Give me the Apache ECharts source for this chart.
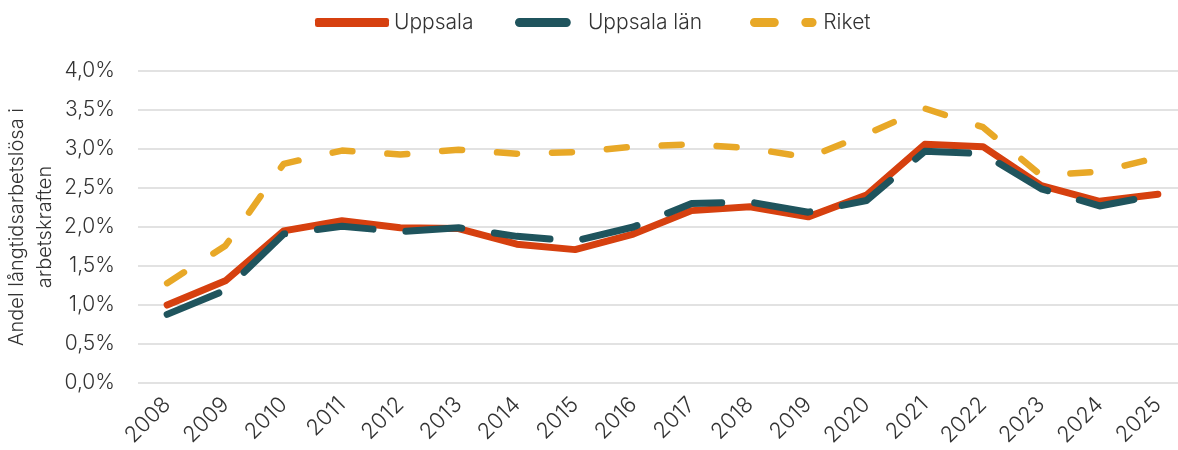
<!DOCTYPE html>
<html>
<head>
<meta charset="utf-8">
<script src="https://cdn.jsdelivr.net/npm/echarts@6/dist/echarts.min.js"></script>
<style>
  html, body { margin: 0; padding: 0; background: #fff; }
  #chart { width: 1178px; height: 450px; }
</style>
</head>
<body>
<div id="chart"></div>
<script>
// years on the x axis
const years = ['2008', '2009', '2010', '2011', '2012', '2013', '2014', '2015', '2016',
  '2017', '2018', '2019', '2020', '2021', '2022', '2023', '2024', '2025'];

// share of long-term unemployed, percent
const uppsala = [1.00, 1.31, 1.95, 2.08, 1.99, 1.98, 1.78, 1.71, 1.91,
  2.21, 2.26, 2.13, 2.41, 3.06, 3.03, 2.53, 2.33, 2.42];
const uppsalaLan = [0.88, 1.19, 1.91, 2.01, 1.94, 1.99, 1.88, 1.82, 2.00,
  2.30, 2.32, 2.19, 2.34, 2.97, 2.94, 2.49, 2.27, 2.41];
const riket = [1.28, 1.76, 2.81, 2.98, 2.93, 2.99, 2.94, 2.96, 3.03,
  3.06, 3.01, 2.89, 3.19, 3.52, 3.28, 2.66, 2.71, 2.89];

const yTitle = 'Andel långtidsarbetslösa i\narbetskraften';

const FONT = 'Inter';
const TXT = '#333333';
const RED = '#d6400f';
const TEAL = '#1f545d';
const YELLOW = '#e8a827';

let chart = echarts.init(document.getElementById('chart'), null, {renderer: 'canvas'});

function pct(v) {
  return v.toFixed(1).replace('.', ',') + '%';
}

// capsule shaped legend marks, like the ones in the original
const capsule = 'path://M5,0H57A5,5 0 0 1 57,10H5A5,5 0 0 1 5,0Z';
const twoDashes = 'path://M5,0H27A5,5 0 0 1 27,10H5A5,5 0 0 1 5,0Z M62,0H69A5,5 0 0 1 69,10H62A5,5 0 0 1 62,0Z';

function legendAt(left, name, icon, width, pad) {
  return {
    top: 7,
    left: left,
    itemWidth: width,
    itemHeight: 9,
    icon: icon,
    textStyle: {fontSize: 21, color: TXT, fontFamily: FONT, fontWeight: 300, padding: [0, 0, 0, pad]},
    data: [name]
  };
}

let option = {
  animation: false,
  textStyle: {fontFamily: FONT, fontWeight: 300, color: TXT},
  legend: [
    legendAt(310, 'Uppsala', 'roundRect', 74, 0),
    legendAt(510, 'Uppsala län', capsule, 62, 9),
    legendAt(745, 'Riket', twoDashes, 74, -2)
  ],
  // rotated y axis title, placed by hand
  graphic: [{
    type: 'text',
    x: 31,
    y: 227,
    rotation: Math.PI / 2,
    style: {
      text: yTitle,
      align: 'center',
      verticalAlign: 'middle',
      lineHeight: 28,
      font: '300 20px Inter',
      fill: TXT
    }
  }],
  grid: {left: 138, right: -9, top: 71, bottom: 67, containLabel: false, outerBoundsMode: 'none'},
  xAxis: {
    type: 'category',
    data: years,
    boundaryGap: true,
    axisLine: {show: false},
    axisTick: {show: false},
    axisLabel: {
      rotate: 45,
      fontSize: 22,
      color: TXT,
      margin: 18,
      interval: 0
    }
  },
  yAxis: {
    type: 'value',
    min: 0,
    max: 4,
    interval: 0.5,
    axisLabel: {formatter: pct, fontSize: 21, color: TXT, margin: 23},
    splitLine: {lineStyle: {color: '#d9d9d9', width: 1.5}}
  },
  series: [
    {
      name: 'Uppsala',
      type: 'line',
      data: uppsala,
      symbol: 'none',
      color: RED,
      lineStyle: {width: 7, color: RED, cap: 'round', join: 'round'}
    },
    {
      name: 'Uppsala län',
      type: 'line',
      data: uppsalaLan,
      symbol: 'none',
      color: TEAL,
      lineStyle: {width: 7, color: TEAL, type: [56, 33], cap: 'round', join: 'round'}
    },
    {
      name: 'Riket',
      type: 'line',
      data: riket,
      symbol: 'none',
      color: YELLOW,
      lineStyle: {width: 6.5, color: YELLOW, type: [20, 35], cap: 'round', join: 'round'}
    }
  ]
};

chart.setOption(option);
</script>
</body>
</html>
